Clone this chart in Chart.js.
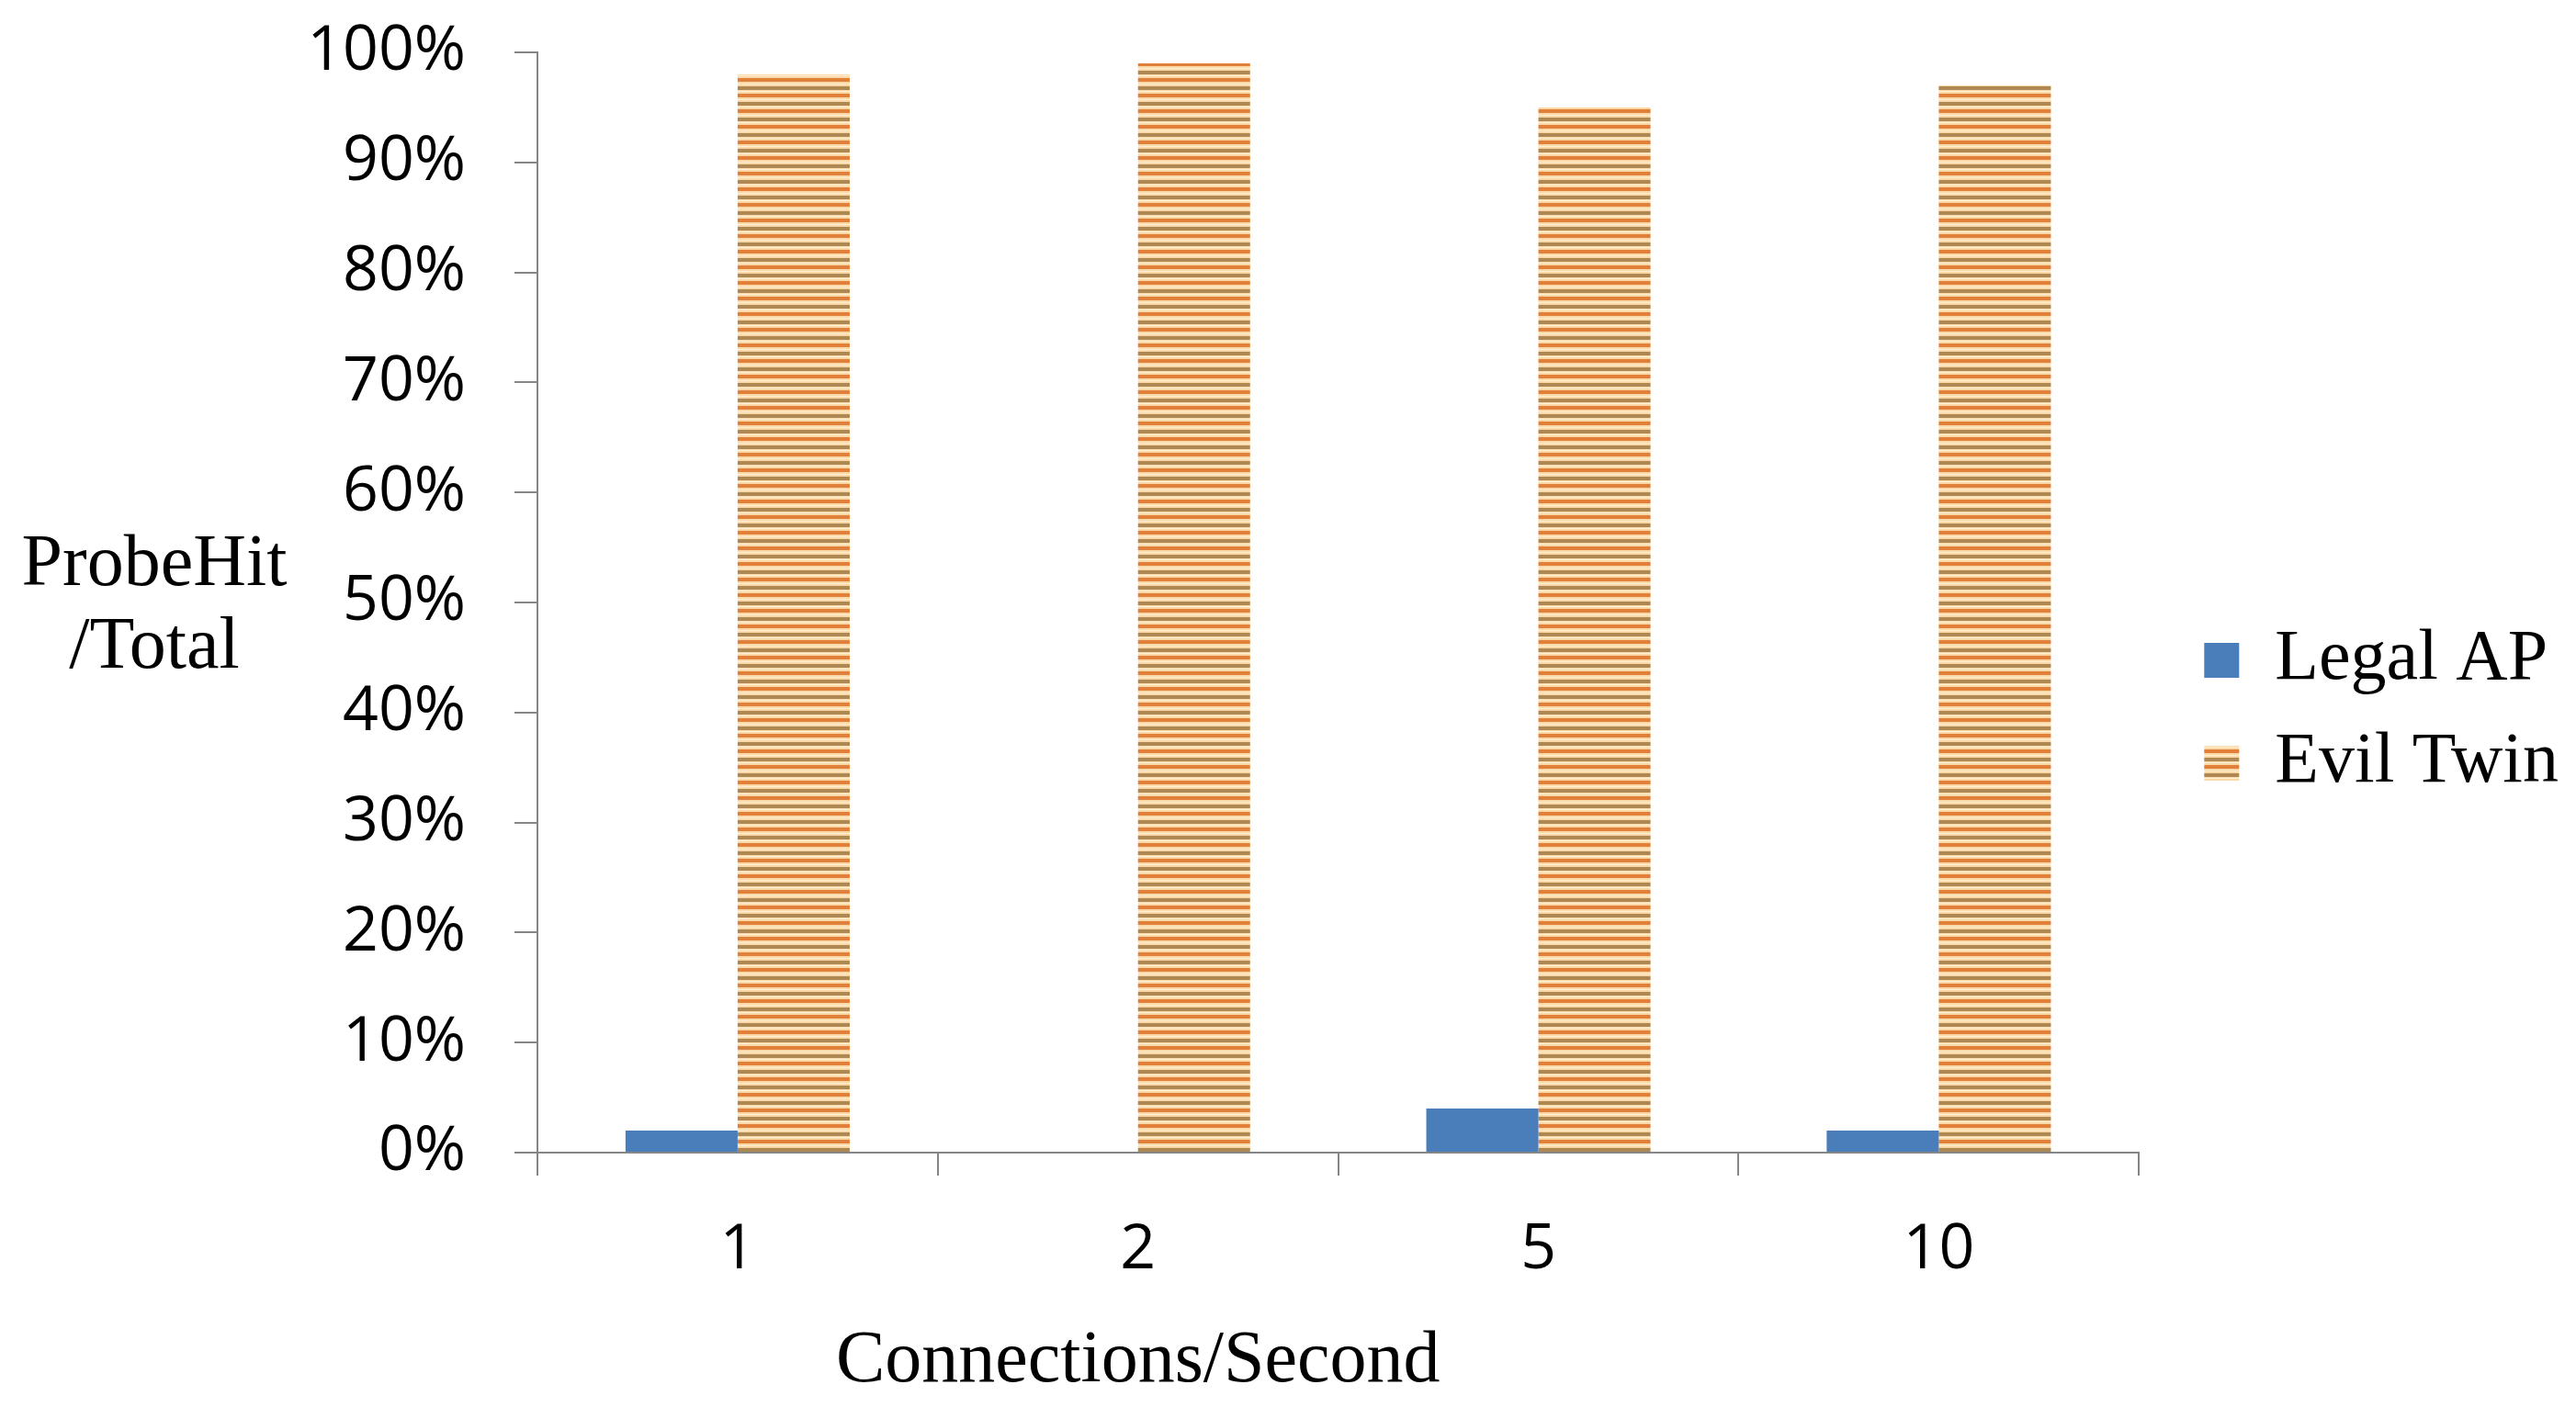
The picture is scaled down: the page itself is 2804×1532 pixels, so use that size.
<!DOCTYPE html>
<html>
<head>
<meta charset="utf-8">
<script src="https://cdn.jsdelivr.net/npm/chart.js@4"></script>
<style>
  html, body { margin: 0; padding: 0; background: #fff; }
  canvas { display: block; }
</style>
</head>
<body>
<canvas id="myChart" width="2804" height="1532"></canvas>
<script>
// data
var categories = ["1", "2", "5", "10"];
var legalAP = [2, 0, 4, 2];
var evilTwin = [98, 99, 95, 97];
var yTickLabels = ["0%", "10%", "20%", "30%", "40%", "50%", "60%", "70%", "80%", "90%", "100%"];

var axisGray = '#868686';
var tickFont = 'Open Sans, Calibri, sans-serif';
var serif = 'Liberation Serif, Times New Roman, serif';

// striped fill for the Evil Twin bars
function stripes() {
    var c = document.createElement('canvas');
    c.width = 4;
    c.height = 17;
    var g = c.getContext('2d');
    g.fillStyle = '#fcd8a6';
    g.fillRect(0, 0, 4, 17);
    g.fillStyle = '#fff0d9';
    g.fillRect(0, 6, 4, 1);
    g.fillRect(0, 14, 4, 1);
    g.fillStyle = '#e0803a';
    g.fillRect(0, 0, 4, 4);
    g.fillStyle = '#ad8853';
    g.fillRect(0, 9, 4, 4);
    return g.createPattern(c, 'repeat');
}

// horizontal axis titles
var axisTitles = {
    id: 'axisTitles',
    afterDraw: function (chart) {
        var ctx = chart.ctx;
        var a = chart.chartArea;
        ctx.save();
        ctx.fillStyle = '#000';
        ctx.font = '80px ' + serif;
        ctx.textAlign = 'center';
        ctx.textBaseline = 'middle';
        var mid = (a.top + a.bottom) / 2;
        ctx.fillText('ProbeHit', a.left - 417, mid - 40);
        ctx.fillText('/Total', a.left - 417, mid + 50);
        ctx.fillText('Connections/Second', a.left + a.width * 0.375, a.bottom + 228);
        ctx.restore();
    }
};

var ctx = document.getElementById("myChart").getContext('2d');
var myChart = new Chart(ctx, {
    type: 'bar',
    data: {
        labels: categories,
        datasets: [{
            label: 'Legal AP',
            data: legalAP,
            backgroundColor: '#4a7ebb',
            borderWidth: 0
        }, {
            label: 'Evil Twin',
            data: evilTwin,
            backgroundColor: stripes(),
            borderWidth: 0
        }]
    },
    options: {
        responsive: false,
        animation: false,
        devicePixelRatio: 1,
        layout: {
            padding: { left: 0, top: 18, bottom: 0, right: 9 }
        },
        datasets: {
            bar: {
                categoryPercentage: 0.56,
                barPercentage: 1.0
            }
        },
        scales: {
            x: {
                grid: {
                    offset: true,
                    drawOnChartArea: false,
                    tickLength: 25,
                    color: axisGray,
                    lineWidth: 2
                },
                border: { color: axisGray, width: 2 },
                ticks: {
                    padding: 41,
                    color: '#000',
                    font: { family: tickFont, size: 68 }
                },
                afterFit: function (s) { s.height = 277; }
            },
            y: {
                min: 0,
                max: 100,
                grid: {
                    drawOnChartArea: false,
                    tickLength: 25,
                    color: axisGray,
                    lineWidth: 2
                },
                border: { color: axisGray, width: 2 },
                ticks: {
                    stepSize: 10,
                    autoSkip: false,
                    padding: 53,
                    color: '#000',
                    font: { family: tickFont, size: 68, lineHeight: 0.118 },
                    callback: function (v, i) { return yTickLabels[i]; }
                },
                afterFit: function (s) { s.width = 585; }
            },
            gap: {
                type: 'linear',
                position: 'right',
                grid: { display: false },
                border: { display: false },
                ticks: { display: false },
                afterFit: function (s) { s.width = 37; }
            }
        },
        plugins: {
            legend: {
                position: 'right',
                labels: {
                    boxWidth: 38,
                    boxHeight: 38,
                    padding: 34,
                    color: '#000',
                    font: { family: serif, size: 78 }
                }
            },
            tooltip: { enabled: false }
        }
    },
    plugins: [axisTitles]
});
</script>
</body>
</html>
